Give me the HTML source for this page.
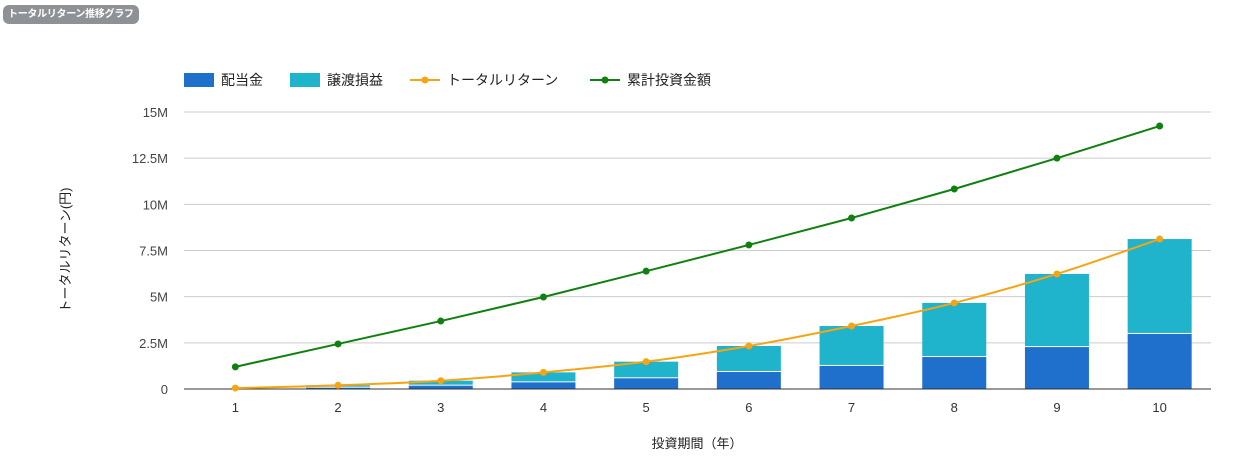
<!DOCTYPE html>
<html><head><meta charset="utf-8"><style>
body{margin:0;background:#fff;font-family:"Liberation Sans","Noto Sans CJK JP",sans-serif;}
#badge{position:absolute;left:3px;top:5px;height:19px;padding:0 5px;background:#8e9296;color:#fff;font-size:10px;letter-spacing:-0.3px;font-weight:bold;line-height:19px;border-radius:6px;}
</style></head><body>
<div id="badge">トータルリターン推移グラフ</div>
<svg id="chart" width="1235" height="459" style="position:absolute;left:0;top:0"></svg>
<script>
const categories=[1,2,3,4,5,6,7,8,9,10];
const dividends=[0.01,0.07,0.18,0.36,0.58,0.92,1.25,1.73,2.27,2.98];
const gains=[0.04,0.13,0.27,0.54,0.90,1.41,2.16,2.93,3.96,5.14];
const totalReturn=[0.05,0.2,0.45,0.9,1.48,2.33,3.41,4.66,6.23,8.12];
const invested=[1.2,2.44,3.68,4.98,6.38,7.8,9.26,10.83,12.5,14.24];
const yTicks=[0,2.5,5,7.5,10,12.5,15];
const yTickLabels=["0","2.5M","5M","7.5M","10M","12.5M","15M"];
const NS="http://www.w3.org/2000/svg",svg=document.getElementById('chart');
const L=184,R=1211,B=389,T=112;
const y=v=>B-(v/15)*(B-T);
const step=(R-L)/categories.length;
const x=i=>L+step*(i+0.5);
function mk(t,a,p){const e=document.createElementNS(NS,t);for(const k in a)e.setAttribute(k,a[k]);(p||svg).appendChild(e);return e;}
yTicks.forEach((v,i)=>{
 if(v>0){const g=mk('line',{x1:L,x2:R,y1:y(v),y2:y(v),stroke:'#ccc'});
 
 }
 const t=mk('text',{x:168,y:y(v)+5,'text-anchor':'end','font-size':13,fill:'#444'});t.textContent=yTickLabels[i];
 
 
});
categories.forEach((c,i)=>{
 const bw=64,bx=x(i)-bw/2;
 const d=mk('rect',{x:bx,y:y(dividends[i]),width:bw,height:B-y(dividends[i]),fill:'#1f6fcc'});
 
 
 const g=mk('rect',{x:bx,y:y(dividends[i]+gains[i]),width:bw,height:Math.max(0,y(dividends[i])-y(dividends[i]+gains[i])-1),fill:'#1fb3cc'});
 
 
 const t=mk('text',{x:x(i),y:412,'text-anchor':'middle','font-size':13,fill:'#333'});t.textContent=c;
 
 
});
const ax=mk('line',{x1:L,x2:R,y1:B,y2:B,stroke:'#333'});


function series(vals,color,name,smooth){
 const pts=vals.map((v,i)=>[x(i),y(v)]);
 let d='M'+pts[0];
 for(let i=1;i<pts.length;i++){
  if(smooth){const p0=pts[i-2]||pts[i-1],p1=pts[i-1],p2=pts[i],p3=pts[i+1]||p2;
   d+=` C${p1[0]+(p2[0]-p0[0])/6},${p1[1]+(p2[1]-p0[1])/6} ${p2[0]-(p3[0]-p1[0])/6},${p2[1]-(p3[1]-p1[1])/6} ${p2[0]},${p2[1]}`;}
  else d+=' L'+pts[i];}
 const p=mk('path',{d:d,stroke:color,'stroke-width':2,fill:'none'});
 
 
 pts.forEach(q=>{const c=mk('circle',{cx:q[0],cy:q[1],r:3.5,fill:color});
  
  });
}
series(invested,'#108010','invested',false);
series(totalReturn,'#f5a514','total-return',true);
const leg=[['rect','#1f6fcc','配当金',184],['rect','#1fb3cc','譲渡損益',290],['line','#f5a514','トータルリターン',410],['line','#108010','累計投資金額',590]];
leg.forEach(l=>{
 const g=mk('g',{});
 
 
 if(l[0]=='rect')mk('rect',{x:l[3],y:73,width:30,height:14,fill:l[1]},g);
 else{mk('line',{x1:l[3],x2:l[3]+30,y1:80,y2:80,stroke:l[1],'stroke-width':2},g);mk('circle',{cx:l[3]+15,cy:80,r:3.5,fill:l[1]},g);}
 const t=mk('text',{x:l[3]+37,y:85,'font-size':14,fill:'#222'},g);t.textContent=l[2];
});
const xt=mk('text',{x:697,y:448,'text-anchor':'middle','font-size':13,fill:'#222'});xt.textContent='投資期間（年）';


const yt=mk('text',{x:0,y:0,'text-anchor':'middle','font-size':13,fill:'#222',transform:'translate(70,250) rotate(-90)'});yt.textContent='トータルリターン(円)';


</script>
</body></html>
